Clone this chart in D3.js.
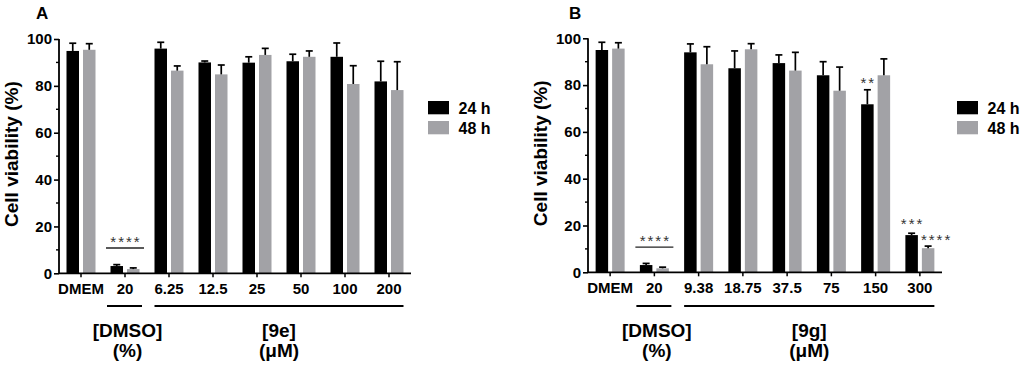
<!DOCTYPE html>
<html>
<head>
<meta charset="utf-8">
<script src="https://cdn.jsdelivr.net/npm/d3@7/dist/d3.min.js"></script>
<style>
  html, body { margin: 0; padding: 0; background: #fff; }
  svg { display: block; font-family: "Liberation Sans", Arial, sans-serif; }
</style>
</head>
<body>
<svg id="chart" width="1024" height="365"></svg>
<script>
// ---------- DATA ----------
const seriesNames = ["24 h", "48 h"];
const yTicks = [0, 20, 40, 60, 80, 100];
const yMinorTicks = [10, 30, 50, 70, 90];

// Panel A: compound 9e
const categoriesA = ["DMEM", "20", "6.25", "12.5", "25", "50", "100", "200"];
const mean24A = [94.9, 3.1, 95.9, 90.0, 89.9, 90.5, 92.4, 81.9];
const sd24A   = [3.3, 0.6, 2.7, 0.6, 2.5, 3.0, 5.9, 8.6];
const mean48A = [95.4, 1.8, 86.5, 84.9, 93.2, 92.4, 80.8, 78.2];
const sd48A   = [2.6, 0.5, 2.0, 4.0, 2.8, 2.5, 7.8, 12.1];
const groupLabelsA = [["[DMSO]", "(%)"], ["[9e]", "(\u03bcM)"]];

// Panel B: compound 9g
const categoriesB = ["DMEM", "20", "9.38", "18.75", "37.5", "75", "150", "300"];
const mean24B = [95.0, 3.1, 94.0, 87.2, 89.4, 84.2, 71.8, 15.9];
const sd24B   = [3.3, 0.7, 3.6, 7.4, 3.5, 5.8, 6.2, 0.8];
const mean48B = [95.6, 1.7, 88.9, 95.3, 86.2, 77.6, 84.2, 10.3];
const sd48B   = [2.5, 0.5, 7.5, 2.4, 7.8, 10.1, 7.0, 0.9];
const groupLabelsB = [["[DMSO]", "(%)"], ["[9g]", "(\u03bcM)"]];

// significance marks: category index, series index (-1 = bracket over both), label, y value
const sigA = [{cat: 1, series: -1, label: "****", value: 9.3}];
const sigB = [
  {cat: 1, series: -1, label: "****", value: 9.3},
  {cat: 6, series: 0, label: "**", value: 78.6},
  {cat: 7, series: 0, label: "***", value: 18.4},
  {cat: 7, series: 1, label: "****", value: 11.5}
];

// ---------- DRAW ----------
const svg = d3.select("#chart");
const colors = ["#000000", "#a2a2a6"];
const FONT = "Liberation Sans, Arial, sans-serif";

function drawPanel(p) {
  const g = svg.append("g");
  const x = d3.scaleBand().domain(p.categories).range([p.x0, p.x1]).paddingInner(0).paddingOuter(0);
  const y = d3.scaleLinear().domain([0, 100]).range([p.yBottom, p.yTop]);
  const barW = 12.5, off = 2;
  const cx = c => x(c) + x.bandwidth() / 2;

  // panel letter
  g.append("text").attr("x", p.letterX).attr("y", 18.5)
    .attr("font-size", 17).attr("font-weight", "bold").text(p.letter);

  // y label
  g.append("text")
    .attr("transform", `translate(${p.x0 - 41},${(p.yTop + p.yBottom) / 2 - 2}) rotate(-90)`)
    .attr("text-anchor", "middle").attr("font-size", 19).attr("font-weight", "bold")
    .text("Cell viability (%)");

  // bars and error bars
  const series = [p.mean24, p.mean48];
  const sds = [p.sd24, p.sd48];
  const rows = [];
  series.forEach((vals, s) => {
    p.categories.forEach((c, i) => {
      rows.push({c: c, s: s, v: vals[i], e: sds[s][i]});
    });
  });
  const bx = d => d.s === 0 ? cx(d.c) - off - barW : cx(d.c) + off;

  g.append("g").selectAll("rect").data(rows).join("rect")
    .attr("x", d => bx(d)).attr("width", barW)
    .attr("y", d => y(d.v)).attr("height", d => y(0) - y(d.v))
    .attr("fill", d => colors[d.s]);

  const eg = g.append("g").attr("stroke", "#000").attr("stroke-width", 1.7);
  eg.selectAll("line.stem").data(rows).join("line").attr("class", "stem")
    .attr("x1", d => bx(d) + barW / 2).attr("x2", d => bx(d) + barW / 2)
    .attr("y1", d => y(d.v)).attr("y2", d => y(d.v + d.e));
  eg.selectAll("line.cap").data(rows).join("line").attr("class", "cap")
    .attr("x1", d => bx(d) + barW / 2 - 3.5).attr("x2", d => bx(d) + barW / 2 + 3.5)
    .attr("y1", d => y(d.v + d.e)).attr("y2", d => y(d.v + d.e));

  // y axis
  const ya = g.append("g").attr("transform", `translate(${p.x0},0)`)
    .call(d3.axisLeft(y).tickValues(yTicks).tickSize(5).tickPadding(2));
  ya.attr("font-family", FONT).attr("font-size", 15);
  ya.selectAll("text").attr("font-weight", "bold").attr("fill", "#000");
  ya.select(".domain").attr("stroke-width", 1.8).attr("d", `M0,${p.yTop}V${p.yBottom}`);
  ya.selectAll(".tick line").attr("stroke-width", 1.6);
  g.append("g").selectAll("line").data(yMinorTicks).join("line")
    .attr("x1", p.x0 - 3).attr("x2", p.x0).attr("y1", d => y(d)).attr("y2", d => y(d))
    .attr("stroke", "#000").attr("stroke-width", 1.4);

  // x axis
  const xa = g.append("g").attr("transform", `translate(0,${p.yBottom})`)
    .call(d3.axisBottom(x).tickSize(4).tickPadding(6));
  xa.attr("font-family", FONT).attr("font-size", 15);
  xa.select(".domain").attr("stroke-width", 1.8).attr("d", `M${p.x0},0H${p.x1}`);
  xa.selectAll(".tick line").attr("stroke-width", 1.5);
  xa.selectAll("text").attr("font-weight", "bold").attr("fill", "#000").attr("dy", "0.71em");

  // group brackets below axis
  const c1 = p.categories[1], cFirst = p.categories[2], cLast = p.categories[p.categories.length - 1];
  const brackets = [
    {from: cx(c1) - 18, to: cx(c1) + 17, labels: p.groupLabels[0]},
    {from: cx(cFirst) - 14.5, to: cx(cLast) + 14.5, labels: p.groupLabels[1]}
  ];
  brackets.forEach((b, i) => {
    g.append("line").attr("x1", b.from).attr("x2", b.to).attr("y1", 306).attr("y2", 306)
      .attr("stroke", "#000").attr("stroke-width", 1.8);
    const mid = (b.from + b.to) / 2 + (i === 0 ? 3 : 0);
    b.labels.forEach((t, k) => {
      g.append("text").attr("x", mid).attr("y", 336.5 + k * 20)
        .attr("text-anchor", "middle").attr("font-size", 19).attr("font-weight", "bold").text(t);
    });
  });

  // significance
  p.sig.forEach(sg => {
    const c = p.categories[sg.cat];
    let tx, anchor = "middle";
    if (sg.series === -1) {
      g.append("line").attr("x1", cx(c) - 19).attr("x2", cx(c) + 19)
        .attr("y1", y(sg.value) - 3.5).attr("y2", y(sg.value) - 3.5)
        .attr("stroke", "#222").attr("stroke-width", 1.3);
      tx = cx(c);
    } else if (sg.series === 0) {
      tx = cx(c) - off - barW / 2;
    } else {
      tx = cx(c) + off - 1; anchor = "start";
    }
    const yy = sg.series === -1 ? y(sg.value) - 5 : y(sg.value);
    g.append("text").attr("x", tx + (anchor === "middle" ? 1 : 0)).attr("y", yy)
      .attr("text-anchor", anchor).attr("font-size", 15).attr("letter-spacing", "2px")
      .attr("fill", "#333").text(sg.label);
  });

  // legend
  seriesNames.forEach((n, i) => {
    g.append("rect").attr("x", p.legendX).attr("y", 101 + i * 20).attr("width", 21).attr("height", 13.3)
      .attr("fill", colors[i]);
    g.append("text").attr("x", p.legendX + 30.5).attr("y", 114 + i * 20)
      .attr("font-size", 16).attr("font-weight", "bold").text(n);
  });
}

drawPanel({letter: "A", letterX: 36, categories: categoriesA, mean24: mean24A, sd24: sd24A,
  mean48: mean48A, sd48: sd48A, groupLabels: groupLabelsA, sig: sigA,
  x0: 59, x1: 411, yTop: 39, yBottom: 273.3, legendX: 428});
drawPanel({letter: "B", letterX: 569, categories: categoriesB, mean24: mean24B, sd24: sd24B,
  mean48: mean48B, sd48: sd48B, groupLabels: groupLabelsB, sig: sigB,
  x0: 588, x1: 942, yTop: 38.3, yBottom: 272.3, legendX: 957});
</script>
</body>
</html>
